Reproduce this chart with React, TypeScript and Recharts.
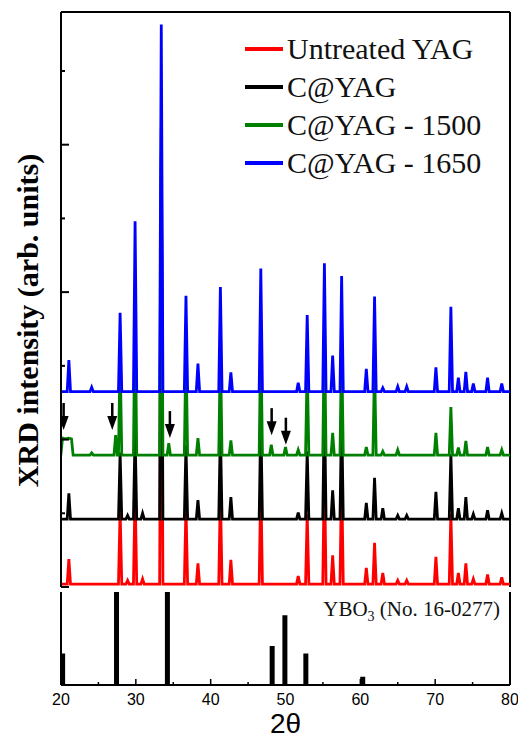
import React from 'react';
import {
  ComposedChart,
  Line,
  Scatter,
  Bar,
  XAxis,
  YAxis,
  ReferenceLine,
  Legend,
  Label,
} from 'recharts';

type Peak = [number, number];

// [2θ, height above the trace baseline] in a.u.
const untreatedPeaks: Peak[] = [
  [21.05, 34], [27.9, 100], [28.9, 5], [29.9, 125], [30.9, 7], [33.4, 480],
  [36.7, 105], [38.3, 28], [41.3, 125], [42.7, 33], [46.7, 140], [51.7, 11],
  [52.9, 95], [55.2, 160], [56.3, 39], [57.5, 150], [60.8, 22], [61.9, 56],
  [63.0, 15], [65.0, 5], [66.2, 5], [70.1, 37], [72.1, 95], [73.1, 15],
  [74.1, 28], [75.1, 7], [77.0, 13], [78.9, 9],
];

const cYagPeaks: Peak[] = [
  [21.05, 35], [27.9, 90], [28.9, 5], [29.9, 118], [30.9, 8], [33.4, 494],
  [36.7, 100], [38.3, 26], [41.3, 122], [42.7, 30], [46.7, 138], [51.7, 9],
  [52.9, 92], [55.2, 161], [56.3, 39], [57.5, 148], [60.8, 22], [61.9, 56],
  [63.0, 15], [65.0, 5], [66.2, 5], [70.1, 37], [72.1, 88], [73.1, 15],
  [74.1, 30], [75.1, 7], [77.0, 12], [78.9, 8],
];

const c1500Peaks: Peak[] = [
  [20.2, 23], [20.6, 22], [21.0, 23], [21.4, 22], [24.1, 3], [27.3, 27],
  [27.9, 136], [29.9, 204], [33.4, 444], [34.4, 16], [36.7, 149], [38.3, 23],
  [41.3, 149], [42.7, 20], [46.7, 163], [48.1, 14], [50.0, 11], [51.7, 7],
  [52.9, 122], [55.2, 176], [56.3, 30], [57.5, 156], [60.8, 11], [61.9, 122],
  [63.0, 5], [65.0, 7], [70.1, 30], [72.1, 65], [73.1, 10], [74.1, 19],
  [77.0, 11], [78.9, 7],
];

const c1650Peaks: Peak[] = [
  [21.05, 43], [24.1, 6], [27.9, 107], [29.9, 231], [33.4, 498], [36.7, 130],
  [38.3, 38], [41.3, 142], [42.7, 26], [46.7, 167], [51.7, 12], [52.9, 104],
  [55.2, 174], [56.3, 49], [57.5, 157], [60.8, 31], [61.9, 129], [63.0, 5],
  [65.0, 7], [66.2, 7], [70.1, 33], [72.1, 115], [73.1, 19], [74.1, 27],
  [75.1, 11], [77.0, 19], [78.9, 11],
];

const traceOffsets = [4, 92, 179, 265];
const traceNames = ['Untreated YAG', 'C@YAG', 'C@YAG - 1500', 'C@YAG - 1650'];
const traceColors = ['#ff0000', '#000000', '#008000', '#0000ff'];

// arrow tips marking YBO3 reflections
const arrowTips = [
  { x: 20.35, y: 213 },
  { x: 26.85, y: 213 },
  { x: 34.55, y: 202 },
  { x: 48.15, y: 206 },
  { x: 50.05, y: 193 },
];

// YBO3 reference pattern (No. 16-0277)
const yboPositions = [20.2, 27.4, 34.2, 48.2, 49.9, 52.7, 60.3];
const yboHeights = [34, 100, 100, 42, 75, 34, 9];

const xTicks = [20, 25, 30, 35, 40, 45, 50, 55, 60, 65, 70, 75, 80];
const yTicks = [0, 100, 200, 300, 400, 500, 600, 700];

const SERIF = "'Liberation Serif', 'Times New Roman', serif";
const SANS = "'Liberation Sans', Arial, sans-serif";
const HALF_WIDTH = 0.22;

const buildTrace = (peaks: Peak[], base: number) => {
  const pts = [{ x: 20, y: base }];
  peaks.forEach(([pos, h], i) => {
    const prev = peaks[i - 1];
    const next = peaks[i + 1];
    if (!prev || prev[0] + HALF_WIDTH <= pos - HALF_WIDTH) {
      pts.push({ x: pos - HALF_WIDTH, y: base });
    }
    pts.push({ x: pos, y: base + h });
    if (!next || pos + HALF_WIDTH <= next[0] - HALF_WIDTH) {
      pts.push({ x: pos + HALF_WIDTH, y: base });
    }
  });
  pts.push({ x: 80, y: base });
  return pts;
};

const traces = [untreatedPeaks, cYagPeaks, c1500Peaks, c1650Peaks].map((p, i) =>
  buildTrace(p, traceOffsets[i])
);

const yboData = yboPositions.map((x, i) => ({ x, h: yboHeights[i] }));

const YTick = (props: any) => {
  const { x, y, payload } = props;
  const major = payload.value % 200 === 0;
  return (
    <line x1={x} y1={y} x2={x + (major ? 8 : 4)} y2={y} stroke='#000' strokeWidth={2} />
  );
};

const XTick = (props: any) => {
  const { x, y, payload } = props;
  const major = payload.value % 10 === 0;
  return (
    <g>
      <line x1={x} y1={y} x2={x} y2={y - (major ? 6 : 3)} stroke='#000' strokeWidth={1.5} />
      {major && (
        <text x={x} y={y + 20} textAnchor='middle' fontSize={16} fontFamily={SANS} fill='#000'>
          {payload.value}
        </text>
      )}
    </g>
  );
};

const ArrowShape = (props: any) => {
  const { cx, cy } = props;
  return (
    <g fill='#000'>
      <rect x={cx - 1.25} y={cy - 27} width={2.5} height={14} />
      <polygon points={`${cx - 5},${cy - 14} ${cx + 5},${cy - 14} ${cx},${cy}`} />
    </g>
  );
};

const renderYLabel = (props: any) => {
  const { viewBox } = props;
  const cx = viewBox.x + viewBox.width - 34;
  const cy = viewBox.y + viewBox.height / 2 + 21;
  return (
    <text
      x={cx}
      y={cy}
      transform={`rotate(-90 ${cx} ${cy})`}
      textAnchor='middle'
      dominantBaseline='central'
      fontFamily={SERIF}
      fontWeight='bold'
      fontSize={30}
      fill='#000'
    >
      XRD intensity (arb. units)
    </text>
  );
};

const renderYboLabel = (props: any) => {
  const { viewBox } = props;
  return (
    <text
      x={viewBox.x - 10}
      y={viewBox.y + 24}
      textAnchor='end'
      fontFamily={SERIF}
      fontSize={21}
      fill='#111'
    >
      YBO
      <tspan fontSize={14} dy={5}>3</tspan>
      <tspan dy={-5}> (No. 16-0277)</tspan>
    </text>
  );
};

const renderLegend = () => (
  <div style={{ fontFamily: SERIF, fontSize: 30, color: '#111' }}>
    {traceNames.map((name, i) => (
      <div key={name} style={{ display: 'flex', alignItems: 'center', height: 38 }}>
        <span
          style={{ width: 38, height: 4, background: traceColors[i], marginRight: 4 }}
        />
        <span style={{ lineHeight: '38px', whiteSpace: 'nowrap' }}>{name}</span>
      </div>
    ))}
  </div>
);

export default function App() {
  return (
    <div
      style={{
        position: 'absolute',
        left: 0,
        top: 0,
        width: 518,
        height: 738,
        background: '#fff',
      }}
    >
      <div style={{ position: 'absolute', left: 0, top: 0 }}>
        <ComposedChart
          width={518}
          height={600}
          margin={{ top: 12, right: 8, bottom: 13, left: 60 }}
        >
          <XAxis
            type='number'
            dataKey='x'
            domain={[20, 80]}
            allowDataOverflow
            hide
          />
          <YAxis
            type='number'
            domain={[0, 780]}
            ticks={yTicks}
            interval={0}
            width={1}
            tickSize={0}
            tickMargin={0}
            tick={<YTick />}
            tickLine={false}
            axisLine={{ stroke: '#000', strokeWidth: 2 }}
            allowDataOverflow
          >
            <Label content={renderYLabel} />
          </YAxis>
          <ReferenceLine y={780} stroke='#000' strokeWidth={2} />
          <ReferenceLine x={80} stroke='#000' strokeWidth={2} />
          {traces.map((data, i) => (
            <Line
              key={traceNames[i]}
              data={data}
              dataKey='y'
              name={traceNames[i]}
              type='linear'
              stroke={traceColors[i]}
              strokeWidth={2.8}
              dot={false}
              activeDot={false}
              isAnimationActive={false}
            />
          ))}
          <Scatter
            data={arrowTips}
            dataKey='y'
            shape={<ArrowShape />}
            isAnimationActive={false}
            legendType='none'
          />
          <Legend
            layout='vertical'
            align='center'
            verticalAlign='middle'
            content={renderLegend}
            wrapperStyle={{ top: 30, left: 245, width: 270 }}
          />
        </ComposedChart>
      </div>
      <div style={{ position: 'absolute', left: 0, top: 580 }}>
        <ComposedChart
          width={518}
          height={158}
          data={yboData}
          margin={{ top: 12, right: 8, bottom: 13, left: 60 }}
        >
          <XAxis
            type='number'
            dataKey='x'
            domain={[20, 80]}
            ticks={xTicks}
            interval={0}
            height={40}
            tickSize={0}
            tickMargin={0}
            tick={<XTick />}
            tickLine={false}
            axisLine={{ stroke: '#000', strokeWidth: 2 }}
            allowDataOverflow
          >
            <Label
              value='2θ'
              position='bottom'
              offset={-12}
              fontSize={28}
              fontFamily={SANS}
              fill='#000'
            />
          </XAxis>
          <YAxis
            type='number'
            domain={[0, 100]}
            width={1}
            tick={false}
            tickLine={false}
            axisLine={{ stroke: '#000', strokeWidth: 2 }}
          />
          <ReferenceLine x={80} stroke='#000' strokeWidth={2}>
            <Label content={renderYboLabel} />
          </ReferenceLine>
          <Bar dataKey='h' fill='#000' barSize={5} isAnimationActive={false} />
        </ComposedChart>
      </div>
    </div>
  );
}
